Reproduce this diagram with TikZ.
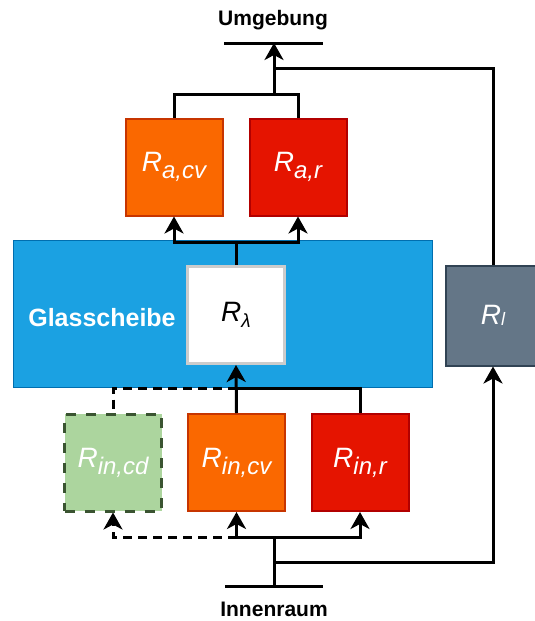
\documentclass[tikz,border=0pt]{standalone}
\usepackage{fontspec}
\setmainfont{Liberation Sans}
\usetikzlibrary{arrows.meta}

\definecolor{orfill}{HTML}{FA6800}
\definecolor{orline}{HTML}{C73500}
\definecolor{rdfill}{HTML}{E51400}
\definecolor{rdline}{HTML}{B20000}
\definecolor{blfill}{HTML}{1BA1E2}
\definecolor{blline}{HTML}{006EAF}
\definecolor{gyfill}{HTML}{647687}
\definecolor{gyline}{HTML}{314354}
\definecolor{grfill}{HTML}{ACD59E}
\definecolor{grline}{HTML}{3A5431}
\definecolor{lamline}{HTML}{CCCCCC}

% R with a lowered subscript: #1 text, #2 size, #3 drop
\newcommand{\Rsub}[3]{{\fontsize{28}{28}\selectfont\itshape R\raisebox{-#3}{\fontsize{#2}{#2}\selectfont #1}}}

\begin{document}
\begin{tikzpicture}[x=1pt,y=-1pt,
  box/.style={draw, line width=2pt, minimum width=97pt, minimum height=97pt, inner sep=0pt, text=white},
  conn/.style={line width=3pt, black},
  arrow/.style={conn, -{Stealth[length=17pt,width=19pt,inset=5pt]}},
  dconn/.style={conn, dash pattern=on 9pt off 6pt},
  darrow/.style={arrow, dash pattern=on 9pt off 6pt},
  title/.style={font=\bfseries\fontsize{21}{21}\selectfont, inner sep=0pt}]
\useasboundingbox (0,0) rectangle (535,621);

% Glass pane
\node[draw=blline, fill=blfill, line width=1.5pt, minimum width=419pt, minimum height=147pt, inner sep=0pt] (glass) at (223,314) {};
\node[text=white, font=\bfseries\fontsize{25}{25}\selectfont, inner sep=0pt] (glabel) at (102,318) {Glasscheibe};

% Resistance boxes
\node[box, fill=orfill, draw=orline] (racv) at (174,167) {\Rsub{a,cv}{24}{7pt}};
\node[box, fill=rdfill, draw=rdline] (rar) at (298,167) {\Rsub{a,r}{24}{7pt}};
\node[box, fill=white, draw=lamline, line width=3pt, text=black] (rlam) at (236,315) {\Rsub{λ}{19}{6pt}};
\node[box, fill=gyfill, draw=gyline, minimum width=95pt, minimum height=100pt] (rl) at (493,315.5) {\Rsub{l}{18}{1pt}};
\node[box, fill=grfill, draw=grline, line width=3pt, dash pattern=on 10pt off 10pt] (rincd) at (113,462.5) {\Rsub{in,cd}{24}{7pt}};
\node[box, fill=orfill, draw=orline] (rincv) at (236.5,462.5) {\Rsub{in,cv}{24}{7pt}};
\node[box, fill=rdfill, draw=rdline] (rinr) at (360,462.5) {\Rsub{in,r}{24}{7pt}};

% Boundaries
\node[title] (umg) at (273,20) {Umgebung};
\node[title] (inn) at (274,609) {Innenraum};
\coordinate (ugL) at (224,43);
\coordinate (ugR) at (323,43);
\coordinate (ug) at (274,43);
\coordinate (inL) at (225,586);
\coordinate (inR) at (323,586);
\coordinate (inM) at (274,586);
\draw[conn] (ugL) -- (ugR);
\draw[conn] (inL) -- (inR);

% Junctions
\coordinate (jtop) at (274,94);
\coordinate (jl) at (274,68);
\coordinate (jmid) at (236,242);
\coordinate (jg) at (236.5,388);
\coordinate (jb) at (274,537);
\coordinate (jr) at (274,562);

% Outer side to the surroundings
\draw[conn] (racv.north) |- (jtop) -| (rar.north);
\draw[arrow] (jtop) -- (ug);
\draw[conn] (rl.north) |- (jl);
\draw[conn] (rlam.north) -- (jmid);
\draw[arrow] (jmid) -| (racv.south);
\draw[arrow] (jmid) -| (rar.south);

% Inner side into the pane
\draw[arrow] (rincv.north) -- (rlam.south);
\draw[conn] (jg) -| (rinr.north);
\draw[dconn] (jg) -| (rincd.north);

% From the interior
\draw[conn] (inM) -- (jb);
\draw[arrow] (jb) -| (rincv.south);
\draw[arrow] (jb) -| (rinr.south);
\draw[darrow] (rincv.south |- jb) -| (rincd.south);
\draw[arrow] (jr) -| (rl.south);
\end{tikzpicture}
\end{document}
